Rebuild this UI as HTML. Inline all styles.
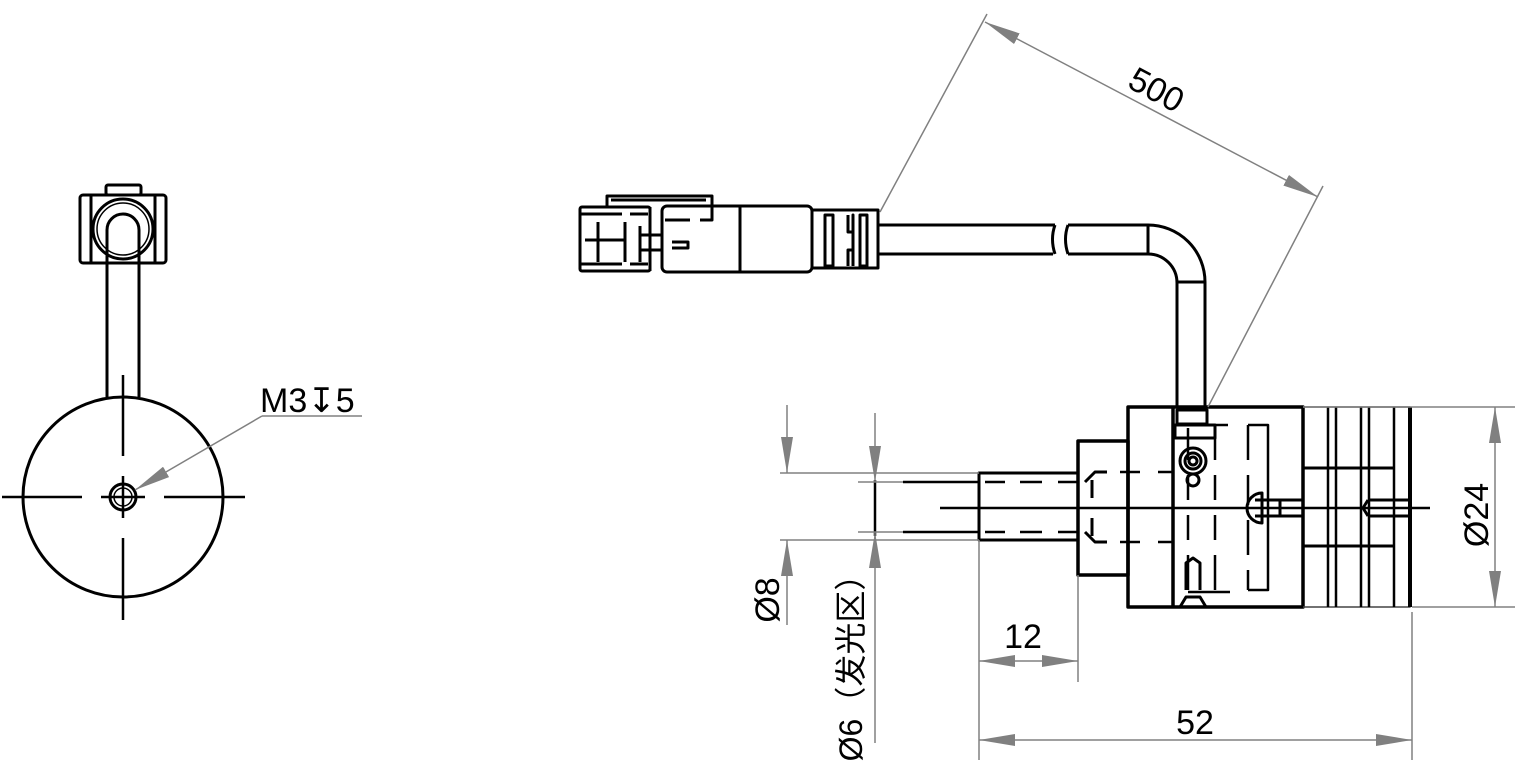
<!DOCTYPE html>
<html><head><meta charset="utf-8"><style>
html,body{margin:0;padding:0;background:#fff}
svg{display:block}
text{font-family:"Liberation Sans","Noto Sans CJK SC",sans-serif;fill:#000}
</style></head><body>
<svg width="1516" height="770" viewBox="0 0 1516 770" xmlns="http://www.w3.org/2000/svg">
<defs>
<marker id="a" viewBox="0 0 36 12" refX="36" refY="6" markerWidth="36" markerHeight="12" markerUnits="userSpaceOnUse" orient="auto-start-reverse"><path d="M0,0 L36,6 L0,12 Z" fill="#808080"/></marker>
</defs>
<g fill="none" stroke="#000" stroke-width="3" stroke-linejoin="round">
<circle cx="123" cy="497" r="100"/>
<circle cx="123" cy="497" r="13"/>
<circle cx="123" cy="497" r="9" stroke-width="1.5"/>
<path d="M2 497H82M101 497H145M164 497H245M123 375V456M123 476V518M123 538V620" stroke-width="2.5"/>
<path d="M107 397V268M139 397V268"/>
<path d="M107 268V230a16 16 0 0 1 32 0V268"/>
<circle cx="123" cy="229" r="30"/>
<circle cx="123" cy="229" r="26" stroke-width="1.5"/>
<rect x="80" y="195" width="86" height="68" rx="3"/>
<rect x="106" y="185" width="35" height="10" rx="2"/>
<path d="M91 195V263M155 195V263"/>
<path d="M607 207V196H712V206"/>
<path d="M611 200H706"/>
<rect x="580" y="207" width="70" height="64" rx="2"/>
<path d="M580 214H622M630 214H648M580 264H622M630 264H648M598 222V262M625 222V262M585 240H625M640 226V262M640 235H662M640 250H662M650 207V271"/>
<rect x="662" y="206" width="150" height="66" rx="5"/>
<path d="M740 206V272M665 220H690M700 220H712V206M672 242H688V248H672"/>
<path d="M812 210H878V268H812M825 215V266H833V215ZM848 215V232H853V215V266M853 266V250H848V266M860 215V266H867V215Z"/>
<path d="M878 225H1055M878 254H1053M1068 225H1148M1068 254H1148"/>
<path d="M1055 225q-5 14 0 29M1068 225q-5 14 0 29"/>
<path d="M1148 225A57 57 0 0 1 1205 282V407M1148 254A29 29 0 0 1 1177 283V407M1148 225V254M1177 282H1205"/>
<rect x="1128" y="407" width="175" height="200" stroke-width="3.5"/>
<rect x="1078" y="441" width="50" height="134" stroke-width="3.5"/>
<rect x="979" y="473" width="99" height="67"/>
<path d="M1173 407V607" stroke-width="3.5"/>
<path d="M1303 407H1410V607H1303" stroke-width="1.5" stroke="#444"/>
<path d="M1328 407V607M1336 407V607M1361 407V607M1369 407V607M1394 407V607" stroke-width="2.5"/>
<path d="M1410 407V607" stroke-width="4"/>
<path d="M1303 468H1395M1303 546H1395M1368 500H1410M1368 516H1410M1368 500l-5 8 5 8"/>
<path d="M1280 500V516M1255 500H1303M1255 516H1303"/>
<path d="M1262 493a15 15 0 0 0 0 30Z"/>
<path d="M1085 482L1095 472H1107M1085 532L1095 542H1107M1092 480V498M1092 518V536"/>
<path d="M985 482h20M1020 482h22M1058 482h20M985 532h20M1020 532h22M1058 532h20M1120 472h20M1158 472h15M1120 542h20M1158 542h15" stroke-width="2.5"/>
<path d="M1188 428V460M1188 475V500M1188 515V540M1188 555V590M1215 428V460M1215 475V500M1215 515V540M1215 555V590M1248 425V460M1248 475V505M1248 520V555M1248 570V590M1188 425H1228M1248 425H1268V590H1248M1188 592H1230" stroke-width="2.5"/>
<rect x="1175" y="425" width="40" height="13"/>
<rect x="1177" y="410" width="30" height="14"/>
<circle cx="1193" cy="461" r="13"/>
<circle cx="1193" cy="461" r="8"/>
<circle cx="1193" cy="461" r="4"/>
<circle cx="1193" cy="480" r="6"/>
<path d="M1186 590V563l7-5 7 5V590M1180 607l6-10H1200l6 10"/>
<path d="M940 508H1430" stroke-width="2.5"/>
<path d="M903 482H979M903 532H979" stroke-width="2.5"/>
<path d="M875 480V536" stroke-width="2.5"/>
</g>
<g fill="none" stroke="#808080" stroke-width="1.5">
<path d="M858 482H903M858 532H903"/>
<path d="M262 416H362"/>
<path d="M262 416L135 490" marker-end="url(#a)"/>
<path d="M880 212L987 14M1208 407L1323 186"/>
<path d="M985 22L1318 197" marker-start="url(#a)" marker-end="url(#a)"/>
<path d="M1303 407H1515M1412 607H1515"/>
<path d="M1495 407V607" marker-start="url(#a)" marker-end="url(#a)"/>
<path d="M780 473H979M780 540H979"/>
<path d="M787 405V473" marker-end="url(#a)"/>
<path d="M787 625V540" marker-end="url(#a)"/>
<path d="M875 413V482" marker-end="url(#a)"/>
<path d="M875 743V532" marker-end="url(#a)"/>
<path d="M979 540V760M1078 575V682M1412 612V760"/>
<path d="M979 661H1078" marker-start="url(#a)" marker-end="url(#a)"/>
<path d="M979 740H1412" marker-start="url(#a)" marker-end="url(#a)"/>
</g>
<text x="260" y="412" font-size="34">M3↧5</text>
<text x="0" y="0" font-size="34" transform="translate(1151,100) rotate(28)" text-anchor="middle">500</text>
<text x="0" y="0" font-size="34" transform="translate(1488,515) rotate(-90)" text-anchor="middle">Ø24</text>
<text x="0" y="0" font-size="34" transform="translate(779,600) rotate(-90)" text-anchor="middle">Ø8</text>
<text x="0" y="0" font-size="32" transform="translate(862,660) rotate(-90)" text-anchor="middle">Ø6（发光区）</text>
<text x="1023" y="648" font-size="34" text-anchor="middle">12</text>
<text x="1195" y="734" font-size="34" text-anchor="middle">52</text>
</svg>
</body></html>
